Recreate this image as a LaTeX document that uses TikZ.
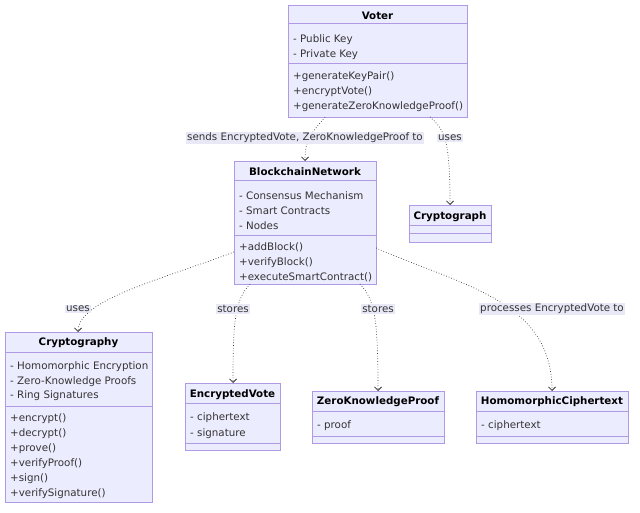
\documentclass[tikz,border=0pt]{standalone}
\usepackage{fontspec}
\setmainfont{DejaVu Sans}
\usetikzlibrary{arrows.meta}
\definecolor{boxfill}{HTML}{ECECFF}
\definecolor{boxline}{HTML}{B09AE6}
\definecolor{txt}{HTML}{333333}
\definecolor{lblbg}{HTML}{E8E8F6}
\tikzset{
  umlbox/.style={draw=boxline, fill=boxfill, line width=1pt, inner sep=0pt, anchor=north west},
  divider/.style={draw=boxline, line width=1pt},
  ttl/.style={font=\fontsize{10.3}{12}\selectfont\bfseries, text=black, inner sep=0pt, yshift=-0.8pt},
  mem/.style={font=\fontsize{10.3}{12}\selectfont, text=txt, anchor=west, inner sep=0pt, yshift=-1.3pt},
  rel/.style={draw=txt, dotted, line width=0.7pt, -{Straight Barb[length=3.5pt,width=7pt,line width=0.8pt]}},
  lbl/.style={font=\fontsize{10.3}{12}\selectfont, text=txt, fill=lblbg, inner sep=1pt}
}
\newcommand{\mkbox}[5]{%
  \node[umlbox, minimum width={#4-#2}, minimum height={#5-#3}] (#1) at (#2,#3) {};}
\begin{document}
\begin{tikzpicture}[x=1pt,y=-1pt]
\useasboundingbox (0,0) rectangle (640,513);

% Voter
\mkbox{voter}{288}{5}{467}{117}
\draw[divider] (288,24) -- (467,24);
\draw[divider] (288,64) -- (467,64);
\node[ttl] (voterT) at (377.5,15) {Voter};
\node[mem] (v1) at (293,38) {- Public Key};
\node[mem] (v2) at (293,53) {- Private Key};
\node[mem] (v3) at (293,75) {+generateKeyPair()};
\node[mem] (v4) at (293,90) {+encryptVote()};
\node[mem] (v5) at (293,105) {+generateZeroKnowledgeProof()};

% BlockchainNetwork
\mkbox{bn}{234}{161}{376}{284}
\draw[divider] (234,181) -- (376,181);
\draw[divider] (234,236) -- (376,236);
\node[ttl] (bnT) at (305,171) {BlockchainNetwork};
\node[mem] (b1) at (239,194) {- Consensus Mechanism};
\node[mem] (b2) at (239,209) {- Smart Contracts};
\node[mem] (b3) at (239,224) {- Nodes};
\node[mem] (b4) at (239,246) {+addBlock()};
\node[mem] (b5) at (239,261) {+verifyBlock()};
\node[mem] (b6) at (239,276) {+executeSmartContract()};

% Cryptograph
\mkbox{cg}{409}{205}{491}{242}
\draw[divider] (409,226) -- (491,226);
\draw[divider] (409,234) -- (491,234);
\node[ttl] (cgT) at (450,216) {Cryptograph};

% Cryptography
\mkbox{cy}{5}{332}{152}{502}
\draw[divider] (5,352) -- (152,352);
\draw[divider] (5,406) -- (152,406);
\node[ttl] (cyT) at (78.5,342) {Cryptography};
\node[mem] (c1) at (10,365) {- Homomorphic Encryption};
\node[mem] (c2) at (10,380) {- Zero-Knowledge Proofs};
\node[mem] (c3) at (10,394) {- Ring Signatures};
\node[mem] (c4) at (10,417) {+encrypt()};
\node[mem] (c5) at (10,432) {+decrypt()};
\node[mem] (c6) at (10,447) {+prove()};
\node[mem] (c7) at (10,462) {+verifyProof()};
\node[mem] (c8) at (10,477) {+sign()};
\node[mem] (c9) at (10,492) {+verifySignature()};

% EncryptedVote
\mkbox{ev}{185}{383}{280}{450}
\draw[divider] (185,403) -- (280,403);
\draw[divider] (185,443) -- (280,443);
\node[ttl] (evT) at (232.5,394) {EncryptedVote};
\node[mem] (e1) at (190,416) {- ciphertext};
\node[mem] (e2) at (190,432) {- signature};

% ZeroKnowledgeProof
\mkbox{zk}{312}{391}{444}{443}
\draw[divider] (312,411) -- (444,411);
\draw[divider] (312,436) -- (444,436);
\node[ttl] (zkT) at (378,401) {ZeroKnowledgeProof};
\node[mem] (z1) at (317,424) {- proof};

% HomomorphicCiphertext
\mkbox{hc}{476}{391}{628}{443}
\draw[divider] (476,411) -- (628,411);
\draw[divider] (476,436) -- (628,436);
\node[ttl] (hcT) at (552,401) {HomomorphicCiphertext};
\node[mem] (h1) at (481,424) {- ciphertext};

% connector end points
\coordinate (p1s) at (325,117);
\coordinate (p2s) at (430,117);
\coordinate (p3s) at (234,252);
\coordinate (p4s) at (250,284);
\coordinate (p5s) at (360,284);
\coordinate (p6s) at (376,248);
\coordinate (p1e) at (305,161);
\coordinate (p2e) at (450,205);
\coordinate (p3e) at (78,332);
\coordinate (p4e) at (233,383);
\coordinate (p5e) at (378,391);
\coordinate (p6e) at (552,391);

% connectors
\draw[rel] (p1s) .. controls (310,135) and (305,140) .. (p1e);
\draw[rel] (p2s) .. controls (445,130) and (450,140) .. (p2e);
\draw[rel] (p3s) .. controls (160,280) and (78,300) .. (p3e);
\draw[rel] (p4s) .. controls (235,300) and (233,320) .. (p4e);
\draw[rel] (p5s) .. controls (375,300) and (378,320) .. (p5e);
\draw[rel] (p6s) .. controls (460,285) and (552,300) .. (p6e);

% labels
\node[lbl] (l1) at (305,138) {sends EncryptedVote, ZeroKnowledgeProof to};
\node[lbl] (l2) at (450,138) {uses};
\node[lbl] (l3) at (78,309) {uses};
\node[lbl] (l4) at (233,309) {stores};
\node[lbl] (l5) at (378,309) {stores};
\node[lbl] (l6) at (552,309) {processes EncryptedVote to};
\end{tikzpicture}
\end{document}
